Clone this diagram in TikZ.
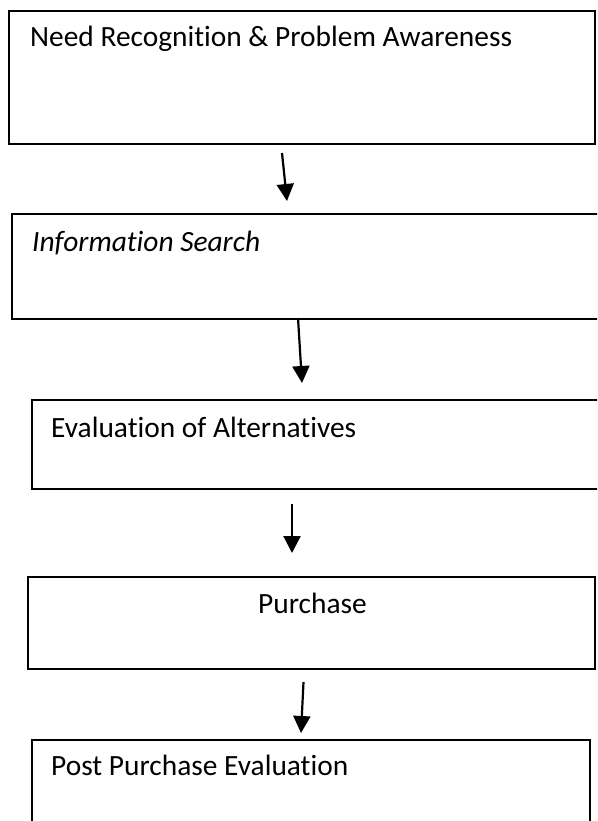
\documentclass[tikz,border=0pt]{standalone}
\usepackage{fontspec}
\setmainfont{Carlito}[Ligatures={NoCommon,TeX}]
\usetikzlibrary{arrows.meta}
\begin{document}
\begin{tikzpicture}[x=1pt,y=-1pt,
  box/.style={draw=black, line width=2.3pt, rectangle, inner sep=0pt, anchor=north west},
  lbl/.style={anchor=base west, inner sep=0pt, font=\fontsize{29.4}{35}\selectfont},
  flow/.style={-{Triangle[length=17pt,width=17pt]}, line width=2.2pt}]
\useasboundingbox (0,0) rectangle (597,821);
\fill[white] (0,0) rectangle (597,821);
\clip (0,0) rectangle (597,821);
% boxes
\node[box, minimum width=586pt, minimum height=133pt] (b1) at (8,10) {};
\node[box, minimum width=599pt, minimum height=105pt] (b2) at (11,213) {};
\node[box, minimum width=579pt, minimum height=89pt]  (b3) at (31,399) {};
\node[box, minimum width=567pt, minimum height=92pt]  (b4) at (27,576) {};
\node[box, minimum width=558pt, minimum height=101pt] (b5) at (31,739) {};
% labels
\node[lbl] (t1) at (30,46.5) {Need Recognition \& Problem Awareness};
\node[lbl] (t2) at (32,251) {\itshape Information Search};
\node[lbl] (t3) at (51,437) {Evaluation of Alternatives};
\node[lbl, anchor=base] (t4) at (312.5,613) {Purchase};
\node[lbl] (t5) at (51,775.5) {Post Purchase Evaluation};
% arrow end points
\coordinate (a1s) at (282,153);
\coordinate (a1e) at (287,201);
\coordinate (a2s) at (298,318);
\coordinate (a2e) at (302,383);
\coordinate (a3s) at (292,504);
\coordinate (a3e) at (292,553);
\coordinate (a4s) at (303.5,682);
\coordinate (a4e) at (301,733);
% connectors
\draw[flow] (a1s) -- (a1e);
\draw[flow] (a2s) -- (a2e);
\draw[flow] (a3s) -- (a3e);
\draw[flow] (a4s) -- (a4e);
\end{tikzpicture}
\end{document}
